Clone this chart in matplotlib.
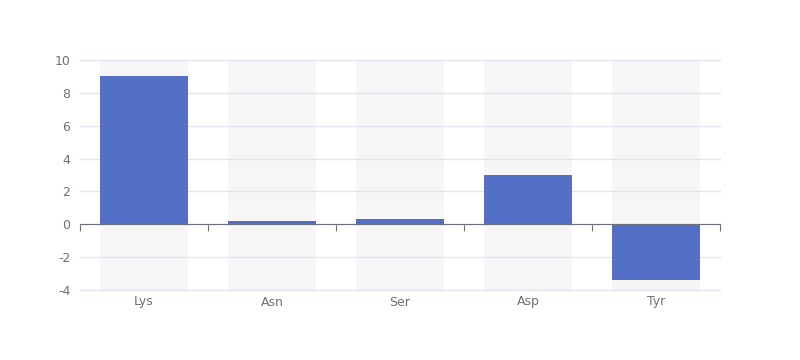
import matplotlib
matplotlib.use("Agg")
import matplotlib.pyplot as plt
import matplotlib.transforms as mtransforms
import numpy as np

plt.rcParams["axes.unicode_minus"] = False

categories = ["Lys", "Asn", "Ser", "Asp", "Tyr"]
values = [9, 0.2, 0.3, 3, -3.4]
y_ticks = [-4, -2, 0, 2, 4, 6, 8, 10]

fig = plt.figure(figsize=(8, 3.6), dpi=100)
ax = fig.add_axes([0.1, 1 - 290 / 360, 0.8, 230 / 360])

x = np.arange(len(categories))
bw = 88 / 128
ax.bar(x, [10 - (-4)] * len(x), bottom=-4, width=bw, color="#f6f6f6", zorder=0.5)
ax.bar(x, values, width=bw, color="#5470c6", zorder=3)

ax.set_xlim(-0.5, len(categories) - 0.5)
ax.set_ylim(-4, 10)
ax.set_yticks(y_ticks)
ax.set_axisbelow(False)
ax.yaxis.grid(True, color="#e0e6f1", linewidth=1)
for gl in ax.get_ygridlines():
    gl.set_clip_on(False)
for s in ["top", "right", "left"]:
    ax.spines[s].set_visible(False)
ax.spines["bottom"].set_position(("data", 0))
ax.spines["bottom"].set_color("#6e7079")
ax.spines["bottom"].set_zorder(4)
ax.set_xticks(np.arange(len(categories) + 1) - 0.5)
ax.tick_params(axis="x", direction="out", length=5, color="#6e7079", labelbottom=False)
ax.tick_params(axis="y", length=0, labelcolor="#6e7079", labelsize=9, pad=7)

trans = mtransforms.blended_transform_factory(ax.transData, ax.transAxes)
for i, c in enumerate(categories):
    ax.text(i, -12 / 230, c, transform=trans, ha="center", va="center",
            color="#6e7079", fontsize=9)

fig.savefig("out.png", dpi=100)
